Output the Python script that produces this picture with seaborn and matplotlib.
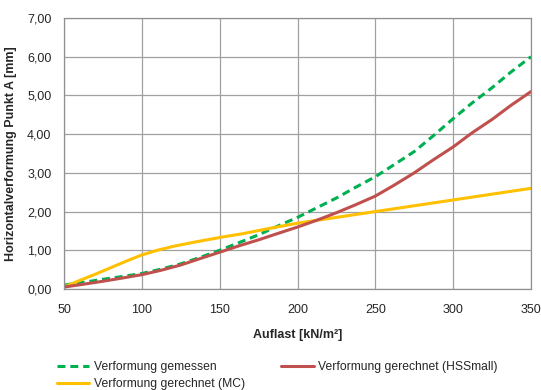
import matplotlib
matplotlib.use("Agg")
import matplotlib.pyplot as plt
import seaborn as sns

# Data
x_gem = [50, 62, 75, 87, 100, 112, 125, 137, 150, 162, 175, 187, 200, 212, 225, 237,
         250, 262, 275, 287, 300, 312, 325, 337, 350]
y_gem = [0.10, 0.17, 0.25, 0.32, 0.40, 0.51, 0.65, 0.81, 1.00, 1.19, 1.40, 1.62, 1.85,
         2.09, 2.35, 2.62, 2.90, 3.21, 3.55, 3.95, 4.40, 4.80, 5.20, 5.60, 6.00]

x_hss = [50, 62, 75, 87, 100, 112, 125, 137, 150, 162, 175, 187, 200, 212, 225, 237,
         250, 262, 275, 287, 300, 312, 325, 337, 350]
y_hss = [0.05, 0.12, 0.20, 0.28, 0.37, 0.48, 0.62, 0.78, 0.95, 1.11, 1.27, 1.43, 1.60,
         1.77, 1.97, 2.17, 2.40, 2.68, 3.00, 3.33, 3.67, 4.03, 4.38, 4.74, 5.10]

x_mc = [50, 60, 70, 80, 90, 100, 110, 120, 135, 150, 165, 180, 200, 225, 250, 300, 350]
y_mc = [0.05, 0.22, 0.38, 0.55, 0.72, 0.88, 1.00, 1.10, 1.22, 1.33, 1.43, 1.55, 1.70,
        1.85, 2.00, 2.30, 2.60]

x_ticks = [50, 100, 150, 200, 250, 300, 350]
y_ticks = [0, 1, 2, 3, 4, 5, 6, 7]
y_ticklabels = ["0,00", "1,00", "2,00", "3,00", "4,00", "5,00", "6,00", "7,00"]

label_gem = "Verformung gemessen"
label_hss = "Verformung gerechnet (HSSmall)"
label_mc = "Verformung gerechnet (MC)"

sns.set_style("white")
plt.rcParams["font.family"] = ["Liberation Sans", "DejaVu Sans"]

fig = plt.figure(figsize=(5.41, 3.90), dpi=100)
ax = fig.add_axes([64/541, 1 - 289/390, (531-64)/541, (289-18)/390])

c_gem = "#00B050"
c_hss = "#C0504D"
c_mc = "#FFC000"

sns.lineplot(x=x_gem, y=y_gem, ax=ax, color=c_gem, linestyle=(0, (2.6, 1.6)), linewidth=2.2, label=label_gem)
sns.lineplot(x=x_mc, y=y_mc, ax=ax, color=c_mc, linewidth=2.2, label=label_mc)
sns.lineplot(x=x_hss, y=y_hss, ax=ax, color=c_hss, linewidth=2.2, label=label_hss)

ax.set_xlim(50, 350)
ax.set_ylim(0, 7)
ax.set_xticks(x_ticks)
ax.set_xticklabels([str(v) for v in x_ticks], fontsize=9)
ax.set_yticks(y_ticks)
ax.set_yticklabels(y_ticklabels, fontsize=9)
ax.grid(True, color="#A0A0A0", linewidth=0.9)
ax.set_axisbelow(True)
for s in ax.spines.values():
    s.set_color("#909090")
    s.set_linewidth(0.9)
ax.tick_params(axis="both", direction="out", length=4, color="#909090", width=0.9, pad=5)
ax.tick_params(axis="x", pad=7)

ax.set_xlabel("Auflast [kN/m²]", fontsize=9, fontweight="bold", labelpad=9)
ax.set_ylabel("Horizontalverformung Punkt A [mm]", fontsize=9, fontweight="bold", labelpad=7)

handles, labels = ax.get_legend_handles_labels()
ax.get_legend().remove()
fig.legend(handles, labels, ncol=2, loc="upper left", bbox_to_anchor=(52/541, 1 - 356/390),
           frameon=False, fontsize=8.7, handlelength=2.7, columnspacing=3.0,
           handletextpad=0.35, labelspacing=0.45, borderaxespad=0)

fig.savefig("out.png", dpi=100)
